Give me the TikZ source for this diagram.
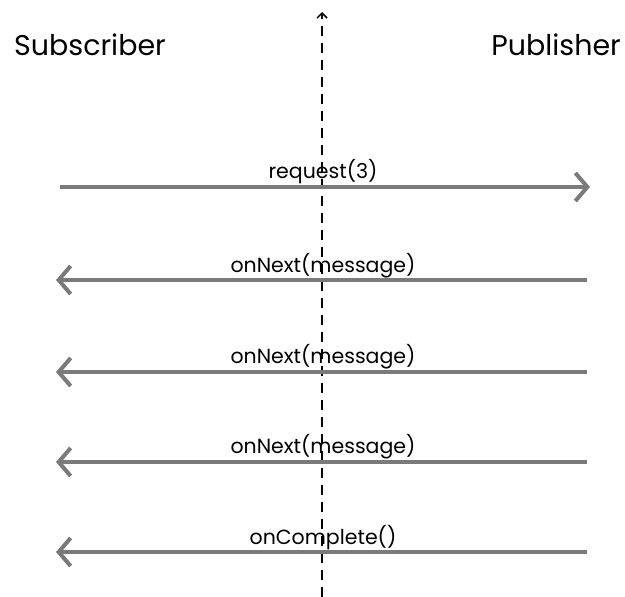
\documentclass[tikz,border=0pt]{standalone}
\usepackage{fontspec}
\setmainfont{Poppins}
\usetikzlibrary{arrows.meta}
\definecolor{msg}{HTML}{7A7A7A}
\tikzset{
  msgline/.style={draw=msg, line width=4pt, -{Straight Barb[length=12pt,width=28pt,line width=4pt]}},
  msglabel/.style={font=\fontsize{20.5}{24}\selectfont, inner sep=0pt, anchor=base},
  actor/.style={font=\fontsize{28.5}{34}\selectfont, inner sep=0pt, anchor=base},
  timeline/.style={draw=black, line width=1.6pt, dash pattern=on 10pt off 7pt, -{Straight Barb[length=5pt,width=10pt,line width=1.5pt]}}
}
\begin{document}
\begin{tikzpicture}[x=1pt,y=-1pt]
\useasboundingbox (0,0) rectangle (625,597);
\node[actor, anchor=base west] (sub) at (14,55) {Subscriber};
\node[actor, anchor=base east] (pub) at (621,55) {Publisher};
\coordinate (tb) at (322,597);
\coordinate (tt) at (322,12);
\draw[timeline] (tb) -- (tt);
\coordinate (l1) at (60,187); \coordinate (r1) at (590,187);
\coordinate (l2) at (56,280); \coordinate (r2) at (587,280);
\coordinate (l3) at (56,372); \coordinate (r3) at (587,372);
\coordinate (l4) at (56,462); \coordinate (r4) at (587,462);
\coordinate (l5) at (56,552); \coordinate (r5) at (587,552);
\draw[msgline] (l1) -- (r1);
\draw[msgline] (r2) -- (l2);
\draw[msgline] (r3) -- (l3);
\draw[msgline] (r4) -- (l4);
\draw[msgline] (r5) -- (l5);
\node[msglabel] (t1) at (323,178) {request(3)};
\node[msglabel] (t2) at (323,272) {onNext(message)};
\node[msglabel] (t3) at (323,363) {onNext(message)};
\node[msglabel] (t4) at (323,453) {onNext(message)};
\node[msglabel] (t5) at (323,544) {onComplete()};
\end{tikzpicture}
\end{document}
